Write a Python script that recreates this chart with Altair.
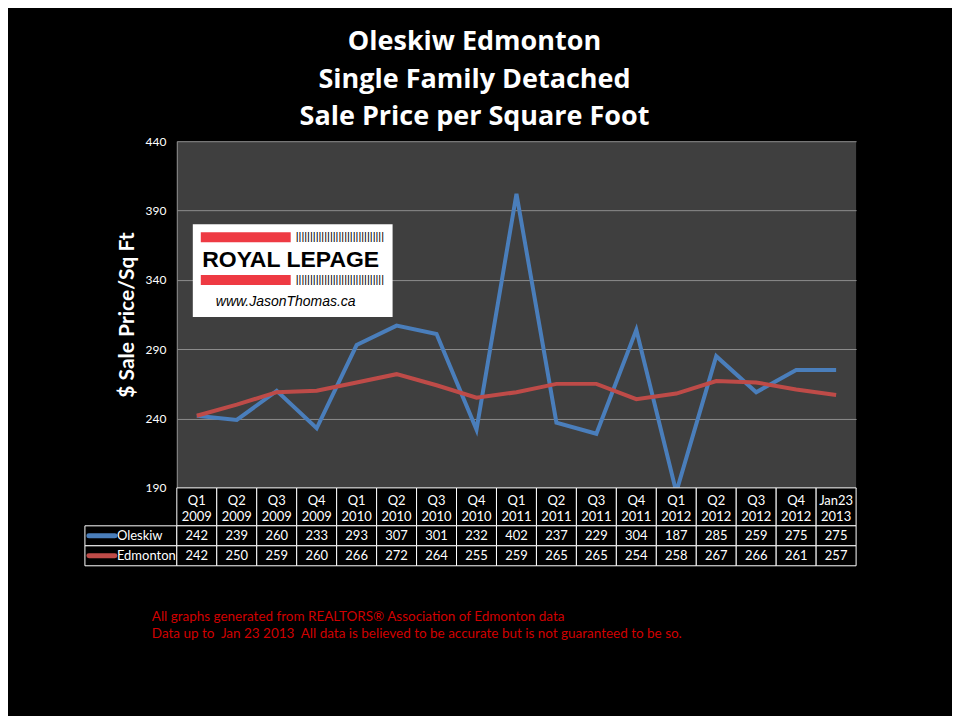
import altair as alt
import pandas as pd

cats = ["Q1 2009", "Q2 2009", "Q3 2009", "Q4 2009", "Q1 2010", "Q2 2010", "Q3 2010",
        "Q4 2010", "Q1 2011", "Q2 2011", "Q3 2011", "Q4 2011", "Q1 2012", "Q2 2012",
        "Q3 2012", "Q4 2012", "Jan23 2013"]
oleskiw = [242, 239, 260, 233, 293, 307, 301, 232, 402, 237, 229, 304, 187, 285, 259, 275, 275]
edmonton = [242, 250, 259, 260, 266, 272, 264, 255, 259, 265, 265, 254, 258, 267, 266, 261, 257]
series = ["Oleskiw", "Edmonton"]
colors = ["#4A7EBB", "#BE4B48"]
y_ticks = [190, 240, 290, 340, 390, 440]
title_lines = ["Oleskiw Edmonton", "Single Family Detached", "Sale Price per Square Foot"]
footer_lines = ["All graphs generated from REALTORS\u00ae Association of Edmonton data",
                "Data up to \u00a0Jan 23 2013 \u00a0All data is believed to be accurate but is not guaranteed to be so."]

FONT = "Lato"
PW, PH = 680, 347
LW = 92

rows = []
for s, vals in zip(series, [oleskiw, edmonton]):
    for c, v in zip(cats, vals):
        rows.append({"cat": c, "series": s, "value": v})
df = pd.DataFrame(rows)
df_cats = pd.DataFrame({"cat": cats})
df_series = pd.DataFrame({"series": series})
df_footer = pd.DataFrame({"i": list(range(len(footer_lines))), "line": footer_lines})
one = pd.DataFrame({"a": [0]})

color = alt.Color("series:N", scale=alt.Scale(domain=series, range=colors), legend=None)
noview = alt.ViewBackground(stroke="transparent", strokeWidth=0)

# ---- main line chart ----
lines = alt.Chart(df).mark_line(strokeWidth=4, clip=True).encode(
    x=alt.X("cat:N", sort=cats, scale=alt.Scale(type="point", domain=cats, padding=0.5), axis=None),
    y=alt.Y("value:Q", scale=alt.Scale(domain=[190, 440], nice=False, zero=False),
            axis=alt.Axis(values=y_ticks, title="$ Sale Price/Sq Ft", grid=True, gridColor="#8C8C8C",
                          gridWidth=1, domain=True, domainColor="#8C8C8C", ticks=False,
                          labelColor="white", labelFontSize=12, labelPadding=11,
                          titleColor="white", titleFontSize=21, titleFontWeight="bold",
                          titlePadding=7, labelFont=FONT, titleFont=FONT)),
    color=color,
    order=alt.Order("series:N"),
)

logo_box = alt.Chart(one).mark_rect(color="white").encode(
    x=alt.value(16), x2=alt.value(216), y=alt.value(83), y2=alt.value(176))
red1 = alt.Chart(one).mark_rect(color="#EE3A43").encode(
    x=alt.value(24), x2=alt.value(114), y=alt.value(91), y2=alt.value(101))
red2 = alt.Chart(one).mark_rect(color="#EE3A43").encode(
    x=alt.value(24), x2=alt.value(114), y=alt.value(134), y2=alt.value(144))
bar1 = alt.Chart(one).mark_text(text="|" * 31, font="Liberation Sans", fontSize=11, color="black",
                                align="left", baseline="middle").encode(
    x=alt.value(119), y=alt.value(96))
bar2 = alt.Chart(one).mark_text(text="|" * 31, font="Liberation Sans", fontSize=11, color="black",
                                align="left", baseline="middle").encode(
    x=alt.value(119), y=alt.value(139))
logo_txt = alt.Chart(one).mark_text(text="ROYAL LEPAGE", font="Liberation Sans", fontSize=23,
                                    fontWeight="bold", color="black", align="center",
                                    baseline="alphabetic").encode(
    x=alt.value(114), y=alt.value(126))
url_txt = alt.Chart(one).mark_text(text="www.JasonThomas.ca", font="Liberation Sans", fontSize=14,
                                   fontStyle="italic", color="black", align="center",
                                   baseline="middle").encode(
    x=alt.value(109), y=alt.value(161))

top = alt.layer(lines, logo_box, red1, red2, bar1, bar2, logo_txt, url_txt).properties(
    width=PW, height=PH, view=alt.ViewBackground(fill="#3F3F3F", stroke="transparent", strokeWidth=0))


def spacer(w, h):
    return alt.Chart(one).mark_point(opacity=0, size=0).properties(width=w, height=h, view=noview)


xb = alt.X("cat:N", sort=cats, scale=alt.Scale(domain=cats, paddingInner=0, paddingOuter=0), axis=None)

# ---- header row ----
hdr_cells = alt.Chart(df_cats).mark_rect(fill="black", stroke="white", strokeWidth=1).encode(x=xb)
hdr_text = alt.Chart(df_cats).mark_text(color="white", fontSize=13, font=FONT, lineBreak=" ",
                                        lineHeight=16, baseline="middle", dy=-6).encode(x=xb, text="cat:N")
header = alt.layer(hdr_cells, hdr_text).properties(width=PW, height=38, view=noview)

# ---- data rows ----
yb = alt.Y("series:N", sort=series, scale=alt.Scale(domain=series, paddingInner=0, paddingOuter=0),
           axis=None)
data_cells = alt.Chart(df).mark_rect(fill="black", stroke="white", strokeWidth=1).encode(x=xb, y=yb)
data_text = alt.Chart(df).mark_text(color="white", fontSize=13, font=FONT, baseline="middle").encode(
    x=xb, y=yb, text="value:Q")
data = alt.layer(data_cells, data_text).properties(width=PW, height=40, view=noview)

lab_cells = alt.Chart(df_series).mark_rect(fill="black", stroke="white", strokeWidth=1).encode(y=yb)
lab_swatch = alt.Chart(df_series).mark_rule(strokeWidth=5, strokeCap="round").encode(
    x=alt.value(4), x2=alt.value(30), y=yb, color=color)
lab_text = alt.Chart(df_series).mark_text(color="white", fontSize=13, font=FONT, align="left",
                                          baseline="middle").encode(
    x=alt.value(32), y=yb, text="series:N")
labels = alt.layer(lab_cells, lab_swatch, lab_text).properties(width=LW, height=40, view=noview)

# ---- footer ----
footer = alt.Chart(df_footer).mark_text(color="#D00000", fontSize=13.5, font=FONT, align="left",
                                        baseline="middle").encode(
    x=alt.value(67), y=alt.Y("i:O", axis=None), text="line:N").properties(
    width=LW, height=34, view=noview)

chart = alt.concat(
    spacer(LW, PH), top,
    spacer(LW, 38), header,
    labels, data,
    spacer(LW, 43), spacer(PW, 43),
    footer, spacer(PW, 34),
    columns=2, spacing=0, bounds="flush",
).properties(
    title=alt.TitleParams(text=title_lines, color="white", fontSize=27, font="Open Sans",
                          fontWeight="bold", lineHeight=37.5, anchor="middle", offset=4, dx=4),
    padding={"left": 76, "top": 20, "right": 95, "bottom": 73},
    background="black",
).configure_view(stroke="transparent", strokeWidth=0).configure(font=FONT)

chart.save("out.html", embed_options={"renderer": "svg", "actions": False})
